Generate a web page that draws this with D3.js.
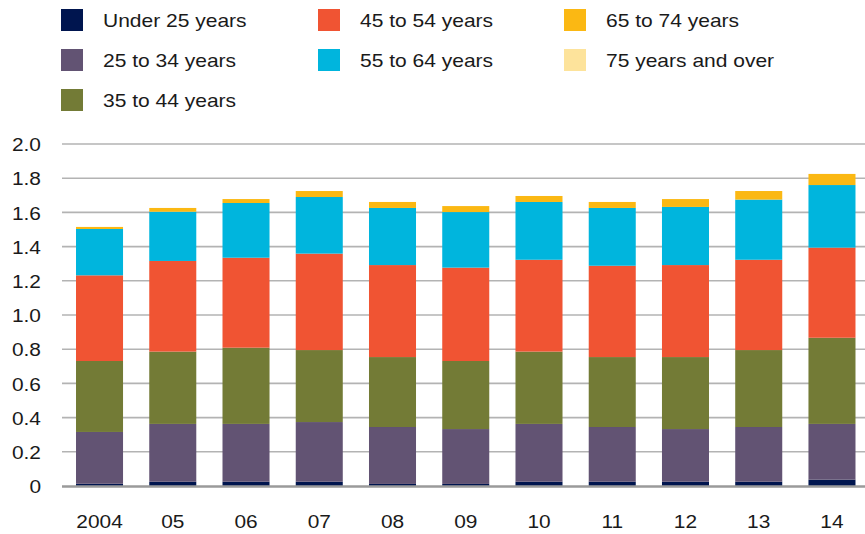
<!DOCTYPE html>
<html>
<head>
<meta charset="utf-8">
<script src="https://cdn.jsdelivr.net/npm/d3@7"></script>
<style>
  body { margin: 0; background: #fff; }
  svg { display: block; font-family: "Liberation Sans", Arial, sans-serif; }
</style>
</head>
<body>
<div id="container"></div>
<script>
var years = ['2004', '05', '06', '07', '08', '09', '10', '11', '12', '13', '14']
var groups = ['Under 25 years', '25 to 34 years', '35 to 44 years', '45 to 54 years',
  '55 to 64 years', '65 to 74 years', '75 years and over']
var colors = ['#00154f', '#625373', '#737b36', '#f05433', '#00b5dd', '#fbb813', '#fde39b']
var yTicks = [0, 0.2, 0.4, 0.6, 0.8, 1.0, 1.2, 1.4, 1.6, 1.8, 2.0]

// one array per age group, values by year
var under25 = [0.013, 0.025, 0.025, 0.025, 0.012, 0.012, 0.025, 0.025, 0.025, 0.025, 0.037]
var age25to34 = [0.303, 0.338, 0.338, 0.349, 0.333, 0.321, 0.338, 0.320, 0.308, 0.320, 0.326]
var age35to44 = [0.415, 0.423, 0.446, 0.421, 0.409, 0.398, 0.423, 0.409, 0.421, 0.450, 0.504]
var age45to54 = [0.501, 0.530, 0.526, 0.564, 0.538, 0.546, 0.537, 0.534, 0.538, 0.528, 0.527]
var age55to64 = [0.271, 0.288, 0.320, 0.331, 0.334, 0.325, 0.338, 0.338, 0.340, 0.352, 0.366]
var age65to74 = [0.012, 0.022, 0.023, 0.035, 0.035, 0.035, 0.035, 0.035, 0.046, 0.050, 0.065]
var age75plus = [0, 0, 0, 0, 0, 0, 0, 0, 0, 0, 0]

var series = [under25, age25to34, age35to44, age45to54, age55to64, age65to74, age75plus]

var width = 865
var height = 534
var stretch = 'scale(1.13,1)' // reference type is a bit wider than Liberation Sans

var svg = d3.select('#container').append('svg')
  .attr('width', width)
  .attr('height', height)

var rows = years.map(function (y, i) {
  var r = { year: y }
  groups.forEach(function (g, k) { r[g] = series[k][i] })
  return r
})

var stacked = d3.stack().keys(groups)(rows)

var x = d3.scaleBand()
  .domain(years)
  .range([62.9, 868.6])
  .paddingInner(0.358)
  .paddingOuter(0.179)

var y = d3.scaleLinear().domain([0, 2]).range([486, 144])

// gridlines
svg.append('g')
  .selectAll('line')
  .data(yTicks.filter(function (d) { return d > 0 }))
  .enter()
  .append('line')
  .attr('x1', 62)
  .attr('x2', width)
  .attr('y1', function (d) { return y(d) })
  .attr('y2', function (d) { return y(d) })
  .attr('stroke', '#b3b3b3')
  .attr('stroke-width', 1.6)

// y axis labels
var yAxis = d3.axisLeft(y)
  .tickValues(yTicks)
  .tickSize(0)
  .tickPadding(0)
  .tickFormat(function (d) { return d === 0 ? '0' : d3.format('.1f')(d) })

var yg = svg.append('g').attr('transform', 'translate(41,0)').call(yAxis)
yg.select('.domain').remove()
yg.selectAll('text')
  .attr('font-size', 18.5)
  .attr('fill', '#1a1a1a')
  .attr('font-family', '"Liberation Sans", Arial, sans-serif')
  .attr('dy', '0.36em')
  .attr('transform', stretch)

// bars
svg.append('g')
  .selectAll('g')
  .data(stacked)
  .enter()
  .append('g')
  .attr('fill', function (d, i) { return colors[i] })
  .selectAll('rect')
  .data(function (d) { return d })
  .enter()
  .append('rect')
  .attr('x', function (d) { return x(d.data.year) })
  .attr('width', x.bandwidth())
  .attr('y', function (d) { return y(d[1]) })
  .attr('height', function (d) { return y(d[0]) - y(d[1]) })

// baseline
svg.append('line')
  .attr('x1', 62)
  .attr('x2', width)
  .attr('y1', y(0) + 0.5)
  .attr('y2', y(0) + 0.5)
  .attr('stroke', '#9a9a9a')
  .attr('stroke-width', 2.5)

// x axis labels
var xAxis = d3.axisBottom(x).tickSize(0).tickPadding(0)
var xg = svg.append('g').attr('transform', 'translate(0,515)').call(xAxis)
xg.select('.domain').remove()
xg.selectAll('text')
  .attr('font-size', 18.5)
  .attr('fill', '#1a1a1a')
  .attr('font-family', '"Liberation Sans", Arial, sans-serif')
  .attr('transform', stretch)

// legend: three columns, filled top to bottom
var legendCols = [61, 318, 564]
var legend = svg.append('g')
  .selectAll('g')
  .data(groups)
  .enter()
  .append('g')
  .attr('transform', function (d, i) {
    var col = i < 3 ? 0 : (i < 5 ? 1 : 2)
    var row = i < 3 ? i : (i < 5 ? i - 3 : i - 5)
    return 'translate(' + legendCols[col] + ',' + (9 + row * 40) + ')'
  })

legend.append('rect')
  .attr('width', 22)
  .attr('height', 22)
  .attr('fill', function (d, i) { return colors[i] })

legend.append('text')
  .attr('transform', 'translate(42,18) ' + stretch)
  .attr('font-size', 18.6)
  .attr('fill', '#1a1a1a')
  .text(function (d) { return d })
</script>
</body>
</html>
